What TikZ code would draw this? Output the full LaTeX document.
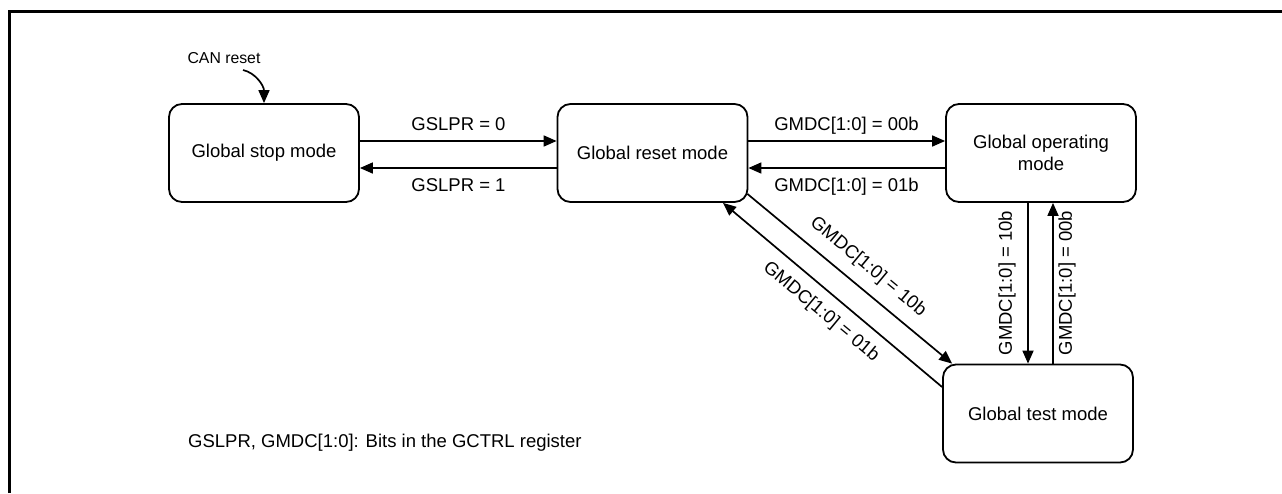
\documentclass[tikz,border=0pt]{standalone}
\usepackage{fontspec}
\setmainfont{Liberation Sans}
\usetikzlibrary{arrows.meta,calc}
\begin{document}
\begin{tikzpicture}[x=1pt,y=-1pt,
  state/.style={draw,line width=1.8pt,rounded corners=13pt,minimum width=190pt,minimum height=98pt,align=center,inner sep=0pt,font=\fontsize{18.5}{22.5}\selectfont},
  lbl/.style={font=\fontsize{18.5}{22.5}\selectfont,inner sep=0pt},
  small/.style={font=\fontsize{15.8}{19}\selectfont,inner sep=0pt},
  arr/.style={line width=1.7pt,-{Triangle[length=13pt,width=11pt]}},
  frame/.style={line width=3pt}
]
\useasboundingbox (0,0) rectangle (1282,493);
\draw[frame] (9.5,493) -- (9.5,11.5) -- (1282,11.5);

\node[state] (stop)  at (264,153)    {Global stop mode};
\node[state] (reset) at (652.5,153)  {Global reset mode};
\node[state] (oper)  at (1041,153)   {Global operating\\mode};
\node[state] (test)  at (1038,413.5) {Global test mode};

\coordinate (ya) at (0,141);
\coordinate (yb) at (0,168);
\draw[arr] (stop.east |- ya) -- (reset.west |- ya);
\draw[arr] (reset.west |- yb) -- (stop.east |- yb);
\draw[arr] (reset.east |- ya) -- (oper.west |- ya);
\draw[arr] (oper.west |- yb) -- (reset.east |- yb);

\node[lbl,anchor=base] (l1) at (458.5,130) {GSLPR = 0};
\node[lbl,anchor=base] (l2) at (458.5,191) {GSLPR = 1};
\node[lbl,anchor=base] (l3) at (846.5,130) {GMDC[1:0] = 00b};
\node[lbl,anchor=base] (l4) at (846.5,191) {GMDC[1:0] = 01b};

\coordinate (xa) at (1028,0);
\coordinate (xb) at (1053,0);
\draw[arr] (oper.south -| xa) -- (test.north -| xa);
\draw[arr] (test.north -| xb) -- (oper.south -| xb);
\node[lbl,rotate=90] (l5) at (1007,283) {GMDC[1:0] = 10b};
\node[lbl,rotate=90] (l6) at (1067,283) {GMDC[1:0] = 00b};

\draw[arr] ($(reset.south east)+(-1,-9)$) -- ($(test.north west)+(10,0)$);
\draw[arr] ($(test.west)+(0,-26.5)$) -- ($(reset.south)+(70.5,0)$);
\node[lbl,rotate=-39.7] (l7) at (868,267) {GMDC[1:0] = 10b};
\node[lbl,rotate=-39.7] (l8) at (821,312) {GMDC[1:0] = 01b};

\node[small] (can) at (224,58) {CAN reset};
\coordinate (cs) at (243,70);
\draw[arr] (cs) .. controls (256,73) and (264,86) .. (stop.north);

\node[lbl,anchor=base west] (note) at (188,447.5) {GSLPR, GMDC[1:0]: Bits in the GCTRL register};
\end{tikzpicture}
\end{document}
